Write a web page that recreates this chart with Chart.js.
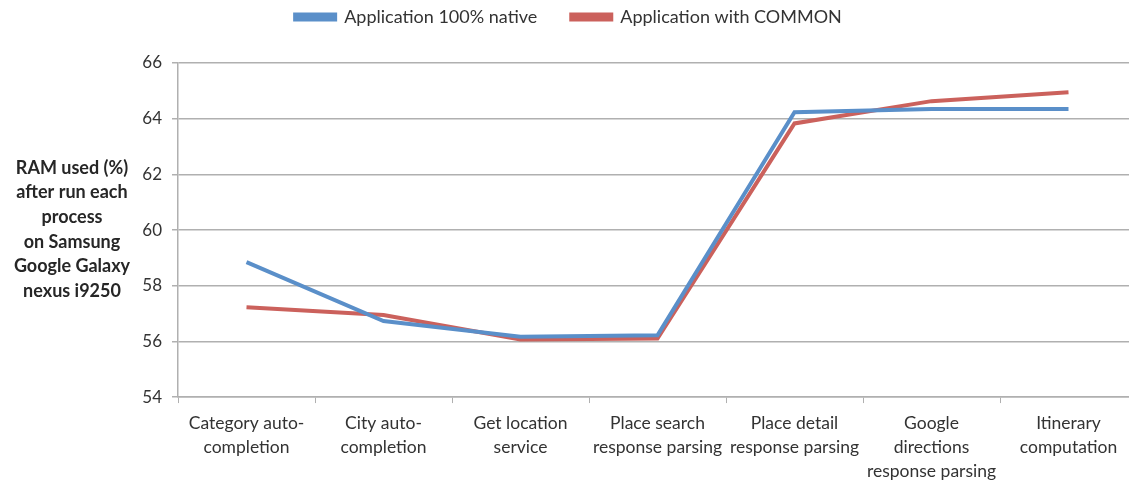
<!DOCTYPE html>
<html>
<head>
<meta charset="utf-8">
<script src="https://cdn.jsdelivr.net/npm/chart.js@4/dist/chart.umd.min.js"></script>
<style>
  html, body { margin: 0; padding: 0; background: #fff; overflow: hidden; }
  #wrap { width: 1140px; height: 482px; }
</style>
</head>
<body>
<div id="wrap"><canvas id="ramChart"></canvas></div>
<script>
// processes measured, one per category
const processes = [
    ['Category auto-', 'completion'],
    ['City auto-', 'completion'],
    ['Get location', 'service'],
    ['Place search', 'response parsing'],
    ['Place detail', 'response parsing'],
    ['Google', 'directions', 'response parsing'],
    ['Itinerary', 'computation']
];

// RAM used (%) after each process
const nativeRam = [58.85, 56.73, 56.17, 56.22, 64.23, 64.35, 64.35];
const commonRam = [57.23, 56.95, 56.07, 56.1, 63.83, 64.63, 64.95];

const yTitle = ['RAM used (%)', 'after run each', 'process', 'on Samsung', 'Google Galaxy', 'nexus i9250'];

const gridColor = '#b0b0b0';
const textColor = '#333333';
const fontFamily = 'Lato, "Open Sans", sans-serif';

// horizontal y-axis title drawn left of the tick labels
const sideTitle = {
    id: 'sideTitle',
    afterDraw(chart) {
        const ctx = chart.ctx;
        ctx.save();
        ctx.font = 'bold 18px ' + fontFamily;
        ctx.fillStyle = '#262626';
        ctx.textAlign = 'center';
        ctx.textBaseline = 'middle';
        yTitle.forEach((line, i) => {
            ctx.fillText(line, 72, 168 + i * 24.6);
        });
        ctx.restore();
    }
};

// fixed legend band so the plot starts lower
const legendGap = {
    id: 'legendGap',
    beforeInit(chart) {
        const fit = chart.legend.fit;
        chart.legend.fit = function () {
            fit.bind(chart.legend)();
            this.height = 89;
        };
    }
};

new Chart(document.getElementById('ramChart'), {
    type: 'line',
    data: {
        labels: processes,
        datasets: [{
            label: 'Application 100% native',
            data: nativeRam,
            borderColor: '#5a8fc9',
            backgroundColor: '#5a8fc9',
            borderWidth: 4,
            pointRadius: 0,
            tension: 0
        }, {
            label: 'Application with COMMON',
            data: commonRam,
            borderColor: '#cb615c',
            backgroundColor: '#cb615c',
            borderWidth: 4,
            pointRadius: 0,
            tension: 0
        }]
    },
    options: {
        responsive: true,
        maintainAspectRatio: false,
        animation: false,
        layout: { padding: { left: 0, right: 3, top: -26, bottom: -9 } },
        plugins: {
            legend: {
                position: 'top',
                labels: {
                    boxWidth: 40,
                    boxHeight: 5,
                    color: textColor,
                    font: { family: fontFamily, size: 18 },
                    padding: 34
                }
            },
            tooltip: { enabled: false }
        },
        scales: {
            x: {
                offset: true,
                grid: {
                    offset: true,
                    drawOnChartArea: false,
                    color: gridColor,
                    tickLength: 6
                },
                border: { color: gridColor, width: 1.5 },
                ticks: {
                    color: textColor,
                    font: { family: fontFamily, size: 17.5, lineHeight: 1.37 },
                    maxRotation: 0,
                    autoSkip: false,
                    padding: 8
                }
            },
            y: {
                min: 54,
                max: 66,
                afterFit(scale) { scale.width = 178; },
                grid: {
                    color: gridColor,
                    lineWidth: 1.5,
                    tickLength: 6
                },
                border: { color: gridColor, width: 1.5 },
                ticks: {
                    stepSize: 2,
                    color: textColor,
                    font: { family: fontFamily, size: 17 },
                    padding: 10
                }
            }
        }
    },
    plugins: [sideTitle, legendGap]
});
</script>
</body>
</html>
